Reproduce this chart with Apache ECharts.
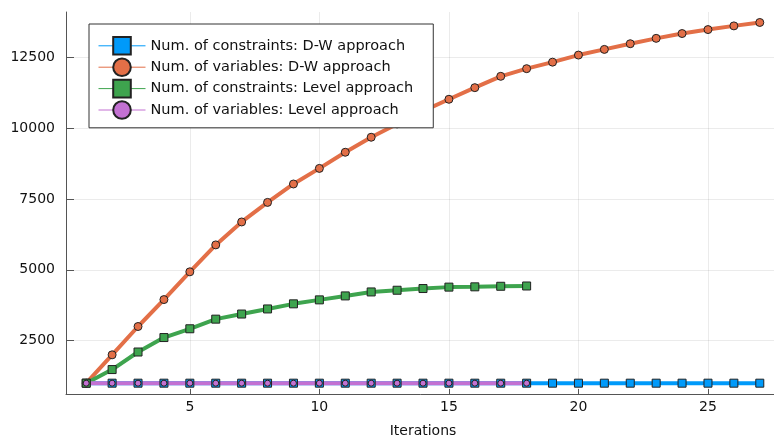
<!DOCTYPE html>
<html>
<head>
<meta charset="utf-8">
<script src="https://cdn.jsdelivr.net/npm/echarts@6/dist/echarts.min.js"></script>
<style>
  html, body { margin: 0; padding: 0; background: #fff; }
  #main { width: 774px; height: 440px; }
</style>
</head>
<body>
<div id="main"></div>
<script>
// iterations (x)
var iterDW = [1, 2, 3, 4, 5, 6, 7, 8, 9, 10, 11, 12, 13, 14, 15, 16, 17, 18, 19, 20, 21, 22, 23, 24, 25, 26, 27];
var iterLevel = [1, 2, 3, 4, 5, 6, 7, 8, 9, 10, 11, 12, 13, 14, 15, 16, 17, 18];

// values
var dwConstraints = [1000, 1000, 1000, 1000, 1000, 1000, 1000, 1000, 1000, 1000, 1000, 1000, 1000, 1000,
  1000, 1000, 1000, 1000, 1000, 1000, 1000, 1000, 1000, 1000, 1000, 1000, 1000];
var dwVariables = [1000, 2000, 3000, 3950, 4930, 5880, 6690, 7380, 8030, 8580, 9150, 9680, 10150, 10600,
  11020, 11430, 11830, 12100, 12330, 12580, 12780, 12980, 13170, 13340, 13480, 13610, 13730];
var levelConstraints = [1000, 1480, 2100, 2610, 2920, 3260, 3440, 3620, 3800, 3940, 4080, 4220, 4280, 4340,
  4390, 4400, 4420, 4430];
var levelVariables = [1000, 1000, 1000, 1000, 1000, 1000, 1000, 1000, 1000, 1000, 1000, 1000, 1000, 1000,
  1000, 1000, 1000, 1000];

var xTicks = [5, 10, 15, 20, 25];
var yTicks = [2500, 5000, 7500, 10000, 12500];

function pairs(xs, ys) {
  return xs.map(function (x, i) { return [x, ys[i]]; });
}

var font = 'DejaVu Sans';
var myChart = echarts.init(document.getElementById('main'));

function mkSeries(name, xs, ys, color, symbol, size) {
  return {
    name: name,
    type: 'line',
    data: pairs(xs, ys),
    symbol: symbol,
    symbolSize: size,
    lineStyle: { color: color, width: 4 },
    itemStyle: { color: color, borderColor: '#222', borderWidth: 1 },
    emphasis: { disabled: true }
  };
}

myChart.setOption({
  animation: false,
  // plot area runs a little past the right edge of the picture
  grid: { left: 66, top: 12, width: 714, bottom: 46, outerBoundsMode: 'none' },
  legend: {
    left: 89,
    top: 24,
    orient: 'vertical',
    padding: [12, 20, 8, 9],
    itemGap: 1.8,
    itemWidth: 47,
    itemHeight: 22,
    backgroundColor: '#fff',
    borderColor: '#333',
    borderWidth: 1,
    borderRadius: 0,
    lineStyle: { width: 1 },
    textStyle: { fontFamily: font, fontSize: 14.5, color: '#111' }
  },
  xAxis: {
    type: 'value',
    min: 0.22,
    max: 27.78,
    name: 'Iterations',
    nameLocation: 'middle',
    nameGap: 30,
    nameTextStyle: { fontFamily: font, fontSize: 14, color: '#111' },
    axisLine: { show: true, lineStyle: { color: '#555', width: 1 } },
    axisTick: { show: true, inside: true, length: 5, customValues: xTicks, lineStyle: { color: '#555' } },
    axisLabel: { customValues: xTicks, margin: 6, fontFamily: font, fontSize: 14, color: '#111' },
    splitLine: { show: true, lineStyle: { color: 'rgba(0,0,0,0.08)', width: 1 } }
  },
  yAxis: {
    type: 'value',
    min: 618,
    max: 14100,
    axisLine: { show: true, lineStyle: { color: '#555', width: 1 } },
    axisTick: { show: true, inside: true, length: 8, customValues: yTicks, lineStyle: { color: '#555' } },
    axisLabel: {
      customValues: yTicks, margin: 11, fontFamily: font, fontSize: 14, color: '#111',
      formatter: function (v) { return String(v); }
    },
    splitLine: { show: true, lineStyle: { color: 'rgba(0,0,0,0.08)', width: 1 } }
  },
  series: [
    mkSeries('Num. of constraints: D-W approach', iterDW, dwConstraints, '#009AFA', 'rect', 8),
    mkSeries('Num. of variables: D-W approach', iterDW, dwVariables, '#E36F47', 'circle', 8),
    mkSeries('Num. of constraints: Level approach', iterLevel, levelConstraints, '#3EA44E', 'rect', 8),
    mkSeries('Num. of variables: Level approach', iterLevel, levelVariables, '#C371D2', 'circle', 6)
  ]
});
</script>
</body>
</html>
